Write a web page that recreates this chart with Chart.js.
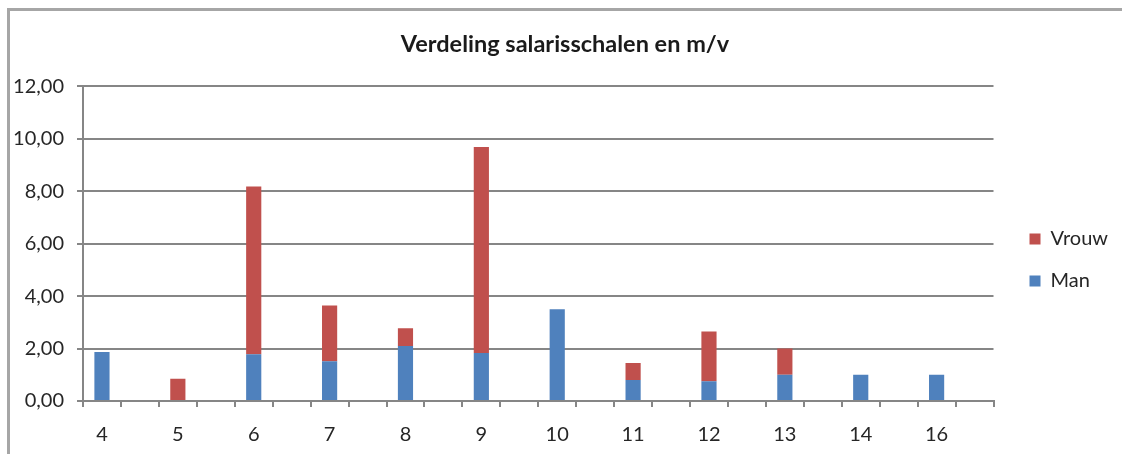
<!DOCTYPE html>
<html>
<head>
<meta charset="utf-8">
<script src="https://cdn.jsdelivr.net/npm/chart.js@4"></script>
<style>
  html, body { margin: 0; padding: 0; background: #ffffff; }
  #wrap { position: relative; width: 1122px; height: 454px; overflow: hidden; }
  #frame { position: absolute; left: 7px; top: 8px; width: 1200px; height: 500px;
           border-top: 3px solid #a6a6a6; border-left: 3px solid #a6a6a6; box-sizing: border-box; }
  canvas { position: absolute; left: 0; top: 0; }
</style>
</head>
<body>
<div id="wrap">
  <div id="frame"></div>
  <canvas id="c" width="1122" height="454"></canvas>
</div>
<script>
const scales = ['4', '5', '6', '7', '8', '9', '10', '11', '12', '13', '14', '16'];
const man    = [1.87, 0,    1.78, 1.52, 2.10, 1.83, 3.50, 0.80, 0.75, 1.00, 1.00, 1.00];
const vrouw  = [0,    0.85, 6.40, 2.12, 0.67, 7.85, 0,    0.65, 1.90, 1.00, 0,    0];
const yTicks = [0, 2, 4, 6, 8, 10, 12];

// The original chart has an empty slot after every scale
const labels = [], manData = [], vrouwData = [];
scales.forEach((s, i) => {
  labels.push(s, '');
  manData.push(man[i], null);
  vrouwData.push(vrouw[i], null);
});

const fontFam = 'Lato, "Open Sans", sans-serif';
const gridColor = '#868686';

new Chart(document.getElementById('c'), {
  type: 'bar',
  data: {
    labels: labels,
    datasets: [
      { label: 'Man', data: manData, backgroundColor: '#4F81BD', barPercentage: 0.4, categoryPercentage: 1.0 },
      { label: 'Vrouw', data: vrouwData, backgroundColor: '#C0504D', barPercentage: 0.4, categoryPercentage: 1.0 }
    ]
  },
  options: {
    responsive: false,
    animation: false,
    layout: { padding: { left: 12, right: 4, top: 10, bottom: 0 } },
    plugins: {
      title: {
        display: true,
        text: 'Verdeling salarisschalen en m/v',
        color: '#1a1a1a',
        font: { family: fontFam, size: 23.5, weight: 'bold' },
        padding: { top: 20, bottom: 28 }
      },
      legend: {
        position: 'right',
        reverse: true,
        title: { display: true, text: ' ', padding: 16, font: { family: fontFam, size: 20 } },
        labels: {
          boxWidth: 11, boxHeight: 11,
          padding: 22,
          color: '#262626',
          font: { family: fontFam, size: 20 }
        }
      },
      tooltip: { enabled: false }
    },
    scales: {
      x: {
        stacked: true,
        afterFit: (axis) => { axis.height = 53; },
        grid: { display: true, drawOnChartArea: false, offset: true, color: gridColor, lineWidth: 2, tickLength: 6 },
        border: { color: gridColor, width: 2 },
        ticks: {
          autoSkip: false, maxRotation: 0, minRotation: 0, padding: 16,
          color: '#262626', font: { family: fontFam, size: 20 }
        }
      },
      y: {
        stacked: true,
        min: 0, max: 12,
        afterBuildTicks: (axis) => { axis.ticks = yTicks.map(v => ({ value: v })); },
        afterFit: (axis) => { axis.width = 71; },
        grid: { color: gridColor, lineWidth: 2, tickLength: 6 },
        border: { color: gridColor, width: 2 },
        ticks: {
          padding: 13,
          color: '#262626', font: { family: fontFam, size: 20 },
          callback: (v) => Number(v).toFixed(2).replace('.', ',')
        }
      },
      gap: {
        position: 'right',
        display: true,
        grid: { display: false },
        border: { display: false },
        ticks: { display: false },
        afterFit: (axis) => { axis.width = 14; }
      }
    }
  }
});
</script>
</body>
</html>
